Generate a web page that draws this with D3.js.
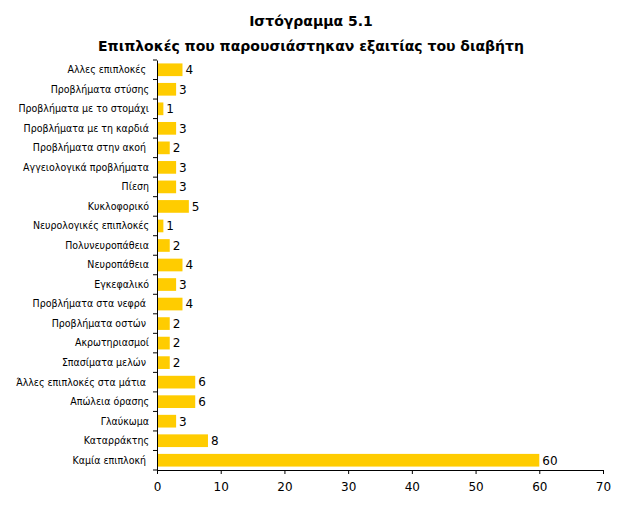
<!DOCTYPE html>
<html>
<head>
<meta charset="utf-8">
<script src="https://cdn.jsdelivr.net/npm/d3@7"></script>
<style>
  body { margin: 0; background: #fff; }
  text { font-family: "DejaVu Sans", sans-serif; }
</style>
</head>
<body>
<div id="chart"></div>
<script>
// categories top to bottom, as in the picture
const categories = [
  "Αλλες επιπλοκές ",
  "Προβλήματα στύσης",
  "Προβλήματα με το στομάχι",
  "Προβλήματα με τη καρδιά",
  "Προβλήματα στην ακοή ",
  "Αγγειολογικά προβλήματα",
  "Πίεση",
  "Κυκλοφορικό",
  "Νευρολογικές επιπλοκές",
  "Πολυνευροπάθεια",
  "Νευροπάθεια",
  "Εγκεφαλικό",
  "Προβλήματα στα νεφρά ",
  "Προβλήματα οστών ",
  "Ακρωτηριασμοί",
  "Σπασίματα μελών ",
  "Άλλες επιπλοκές στα μάτια ",
  "Απώλεια όρασης",
  "Γλαύκωμα",
  "Καταρράκτης",
  "Καμία επιπλοκή "
];
const values = [4, 3, 1, 3, 2, 3, 3, 5, 1, 2, 4, 3, 4, 2, 2, 2, 6, 6, 3, 8, 60];
const xTicks = [0, 10, 20, 30, 40, 50, 60, 70];
const titleLines = ["Ιστόγραμμα 5.1", "Επιπλοκές που παρουσιάστηκαν εξαιτίας του διαβήτη"];

const width = 617, height = 506;
const margin = {top: 60, right: 14, bottom: 36, left: 157};

const svg = d3.select("#chart").append("svg")
  .attr("width", width)
  .attr("height", height);

const x = d3.scaleLinear().domain([0, 70]).range([margin.left, width - margin.right]);
const y = d3.scaleBand().domain(categories)
  .range([margin.top, height - margin.bottom])
  .paddingInner(0.35).paddingOuter(0.175);

// title
svg.append("g").selectAll("text")
  .data(titleLines)
  .join("text")
  .attr("x", 311)
  .attr("y", (d, i) => 26 + i * 25)
  .attr("text-anchor", "middle")
  .style("font-size", "14px")
  .style("font-weight", "bold")
  .text(d => d);

// bars
svg.append("g").selectAll("rect")
  .data(values)
  .join("rect")
  .attr("x", x(0))
  .attr("y", (d, i) => y(categories[i]))
  .attr("width", d => x(d) - x(0))
  .attr("height", y.bandwidth())
  .attr("fill", "#ffcc00");

// value labels
svg.append("g").selectAll("text")
  .data(values)
  .join("text")
  .attr("x", d => x(d) + 3)
  .attr("y", (d, i) => y(categories[i]) + y.bandwidth() / 2)
  .attr("dy", "0.36em")
  .style("font-size", "12px")
  .text(d => d);

// x axis
const xAxis = svg.append("g")
  .attr("transform", `translate(0,${height - margin.bottom})`)
  .call(d3.axisBottom(x).tickValues(xTicks).tickSize(4).tickPadding(8));
xAxis.select(".domain").attr("stroke", "#000");
xAxis.selectAll("text").style("font-size", "12px").style("font-family", "DejaVu Sans, sans-serif");

// y axis: ticks sit between categories
const yAxis = svg.append("g")
  .attr("transform", `translate(${margin.left},0)`)
  .call(d3.axisLeft(y).tickSize(0).tickPadding(8));
yAxis.select(".domain").attr("stroke", "#000");
yAxis.selectAll("text")
  .style("font-size", "10.5px")
  .style("white-space", "pre")
  .style("font-family", "'DejaVu Sans Condensed', 'DejaVu Sans', sans-serif")
  .style("font-stretch", "condensed");

const step = y.step();
const bounds = d3.range(categories.length + 1).map(i => margin.top + i * step);
yAxis.selectAll(".sep")
  .data(bounds)
  .join("line")
  .attr("x1", -4).attr("x2", 0)
  .attr("y1", d => d).attr("y2", d => d)
  .attr("stroke", "#000");
</script>
</body>
</html>
